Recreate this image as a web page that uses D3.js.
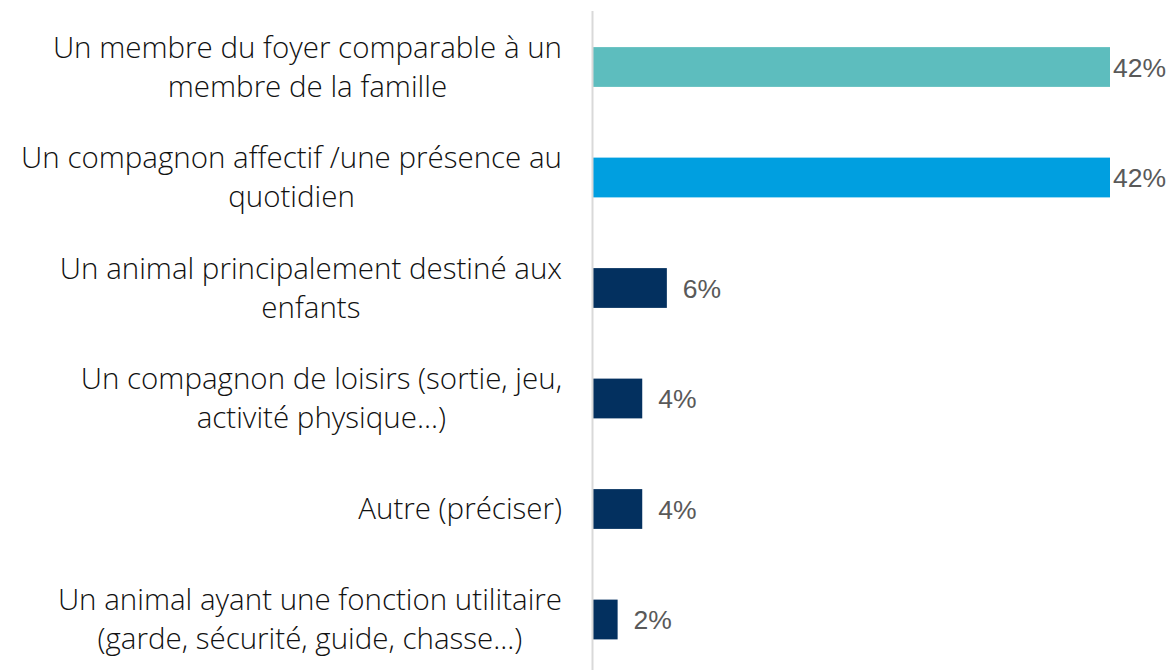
<!DOCTYPE html>
<html>
<head>
<meta charset="utf-8">
<script src="https://cdn.jsdelivr.net/npm/d3@7"></script>
<style>
  body { margin: 0; background: #fff; }
  svg { display: block; }
</style>
</head>
<body>
<svg id="chart"></svg>
<script>
const width = 1171;
const height = 670;

// data
const categories = [
  ["Un membre du foyer comparable à un", "membre de la famille"],
  ["Un compagnon affectif /une présence au", "quotidien"],
  ["Un animal principalement destiné aux", "enfants"],
  ["Un compagnon de loisirs (sortie, jeu,", "activité physique...)"],
  ["Autre (préciser)"],
  ["Un animal ayant une fonction utilitaire", "(garde, sécurité, guide, chasse...)"]
];
const values = [42, 42, 6, 4, 4, 2];
const barColors = ["#5dbdbe", "#009fe0", "#03305f", "#03305f", "#03305f", "#03305f"];

const axisX = 593;
const labelRight = 562;

const svg = d3.select("#chart")
  .attr("width", width)
  .attr("height", height);

const xScale = d3.scaleLinear()
  .domain([0, 42])
  .range([axisX, 1110]);

const yScale = d3.scaleBand()
  .domain(d3.range(categories.length))
  .range([11.75, 674.75])
  .paddingInner(0.64)
  .paddingOuter(0.32);

// bars
svg.append("g")
  .selectAll("rect")
  .data(values)
  .enter()
  .append("rect")
  .attr("x", xScale(0))
  .attr("y", (d, i) => yScale(i))
  .attr("width", d => xScale(d) - xScale(0))
  .attr("height", yScale.bandwidth())
  .attr("fill", (d, i) => barColors[i]);

// vertical axis line
svg.append("line")
  .attr("x1", axisX - 0.5).attr("x2", axisX - 0.5)
  .attr("y1", 11).attr("y2", height)
  .attr("stroke", "#d9d9d9")
  .attr("stroke-width", 2);

// value labels
svg.append("g")
  .selectAll("text")
  .data(values)
  .enter()
  .append("text")
  .attr("x", d => Math.min(xScale(d) + 16, 1113))
  .attr("y", (d, i) => yScale(i) + yScale.bandwidth() / 2)
  .attr("dy", "0.36em")
  .attr("font-family", "'Liberation Sans', Arial, sans-serif")
  .attr("font-size", 26.5)
  .attr("fill", "#595959")
  .text(d => d + "%");

// category labels, each block centered on its own widest line, right edge at labelRight
const lineGap = 39;
const labels = svg.append("g")
  .attr("font-family", "'Open Sans', sans-serif")
  .attr("font-size", 29.5)
  .attr("font-weight", 300)
  .attr("fill", "#111");

categories.forEach((lines, i) => {
  const cy = yScale(i) + yScale.bandwidth() / 2;
  const t = labels.append("text")
    .attr("text-anchor", "middle");
  lines.forEach((ln, j) => {
    t.append("tspan")
      .attr("y", cy + (j - (lines.length - 1) / 2) * lineGap)
      .attr("dy", "0.35em")
      .text(ln);
  });
  let maxW = 0;
  t.selectAll("tspan").each(function() {
    maxW = Math.max(maxW, this.getComputedTextLength());
  });
  t.selectAll("tspan").attr("x", labelRight - maxW / 2);
});
</script>
</body>
</html>
